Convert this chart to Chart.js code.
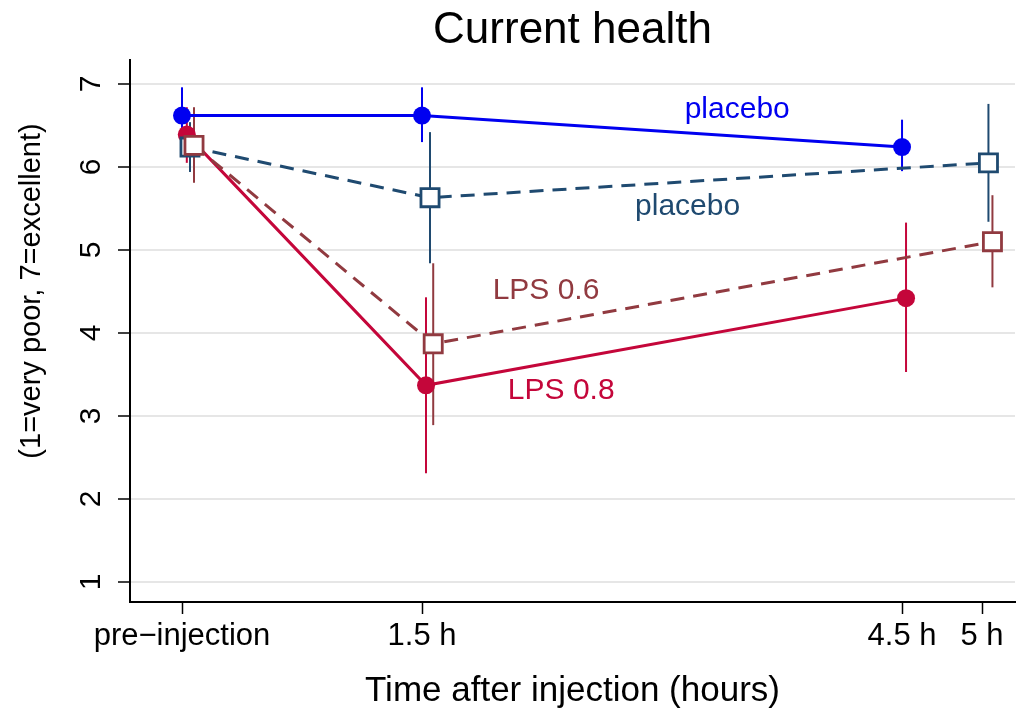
<!DOCTYPE html>
<html>
<head>
<meta charset="UTF-8">
<title>Current health</title>
<script src="https://cdn.jsdelivr.net/npm/chart.js@4"></script>
<style>
  body { margin: 0; background: #fff; }
</style>
</head>
<body>
<canvas id="chart" width="1019" height="713"></canvas>
<script>
// axis ticks
const xTicks = [0, 1.5, 4.5, 5];
const xTickLabels = ['pre\u2212injection', '1.5 h', '4.5 h', '5 h'];
const yTicks = [1, 2, 3, 4, 5, 6, 7];

// placebo, filled circles (solid line)
const placeboATime = [0, 1.5, 4.5];
const placeboAMean = [6.62, 6.62, 6.24];
const placeboALo = [6.30, 6.30, 5.95];
const placeboAHi = [6.96, 6.96, 6.57];

// LPS 0.8, filled circles (solid line)
const lps08Time = [0.03, 1.525, 4.525];
const lps08Mean = [6.39, 3.37, 4.42];
const lps08Lo = [6.05, 2.31, 3.53];
const lps08Hi = [6.72, 4.43, 5.33];

// placebo, hollow squares (dashed line)
const placeboBTime = [0.05, 1.55, 5.04];
const placeboBMean = [6.24, 5.63, 6.05];
const placeboBLo = [5.94, 4.84, 5.34];
const placeboBHi = [6.54, 6.42, 6.76];

// LPS 0.6, hollow squares (dashed line)
const lps06Time = [0.075, 1.57, 5.065];
const lps06Mean = [6.26, 3.87, 5.10];
const lps06Lo = [5.81, 2.89, 4.55];
const lps06Hi = [6.72, 4.84, 5.66];

const FONT = "'Liberation Sans', Arial, Helvetica, sans-serif";

function pts(xs, ys) {
    return xs.map((x, i) => ({x: x, y: ys[i]}));
}

const errorBars = {
    id: 'errorBars',
    beforeDatasetsDraw(chart) {
        const ctx = chart.ctx;
        const xs = chart.scales.x, ys = chart.scales.y;
        ctx.save();
        chart.data.datasets.forEach(ds => {
            ctx.strokeStyle = ds.borderColor;
            ctx.lineWidth = ds.barWidth;
            ds.data.forEach((p, i) => {
                const px = xs.getPixelForValue(p.x);
                ctx.beginPath();
                ctx.moveTo(px, ys.getPixelForValue(ds.lo[i]));
                ctx.lineTo(px, ys.getPixelForValue(ds.hi[i]));
                ctx.stroke();
            });
        });
        ctx.restore();
    }
};

const extraText = {
    id: 'extraText',
    afterDraw(chart, args, opts) {
        const ctx = chart.ctx;
        const xs = chart.scales.x, ys = chart.scales.y;
        const area = chart.chartArea;
        const midX = (area.left + area.right) / 2;
        ctx.save();
        ctx.textAlign = 'center';
        ctx.textBaseline = 'middle';

        // title
        ctx.fillStyle = '#000';
        ctx.font = '44px ' + FONT;
        ctx.fillText('Current health', midX, 31);

        // series labels
        ctx.font = '30px ' + FONT;
        opts.labels.forEach(l => {
            ctx.fillStyle = l.color;
            ctx.fillText(l.text, xs.getPixelForValue(l.x), ys.getPixelForValue(l.y));
        });

        // rotated y tick labels
        ctx.fillStyle = '#000';
        yTicks.forEach(v => {
            ctx.save();
            ctx.translate(92, ys.getPixelForValue(v));
            ctx.rotate(-Math.PI / 2);
            ctx.fillText(String(v), 0, 0);
            ctx.restore();
        });

        // y axis title
        ctx.font = '29px ' + FONT;
        ctx.save();
        ctx.translate(32, 291);
        ctx.rotate(-Math.PI / 2);
        ctx.fillText('(1=very poor, 7=excellent)', 0, 0);
        ctx.restore();

        // x axis title
        ctx.font = '35px ' + FONT;
        ctx.fillText('Time after injection (hours)', midX, 691);
        ctx.restore();
    }
};

new Chart(document.getElementById('chart'), {
    type: 'scatter',
    data: {
        datasets: [
            {
                label: 'placebo', data: pts(placeboATime, placeboAMean),
                lo: placeboALo, hi: placeboAHi, barWidth: 2,
                showLine: true, borderColor: '#0000f0', backgroundColor: '#0000f0',
                borderWidth: 3, pointStyle: 'circle', pointRadius: 9, pointBorderWidth: 0,
                order: 3
            },
            {
                label: 'LPS 0.8', data: pts(lps08Time, lps08Mean),
                lo: lps08Lo, hi: lps08Hi, barWidth: 2,
                showLine: true, borderColor: '#c4063a', backgroundColor: '#c4063a',
                borderWidth: 3, pointStyle: 'circle', pointRadius: 9, pointBorderWidth: 0,
                order: 2
            },
            {
                label: 'placebo', data: pts(placeboBTime, placeboBMean),
                lo: placeboBLo, hi: placeboBHi, barWidth: 2,
                showLine: true, borderColor: '#1f4a70', backgroundColor: '#ffffff',
                borderWidth: 3, borderDash: [14, 9],
                pointStyle: 'rect', pointRadius: 12.8, pointBorderWidth: 2.8,
                order: 1
            },
            {
                label: 'LPS 0.6', data: pts(lps06Time, lps06Mean),
                lo: lps06Lo, hi: lps06Hi, barWidth: 2,
                showLine: true, borderColor: '#913a40', backgroundColor: '#ffffff',
                borderWidth: 3, borderDash: [14, 9],
                pointStyle: 'rect', pointRadius: 12.8, pointBorderWidth: 2.8,
                order: 0
            }
        ]
    },
    options: {
        responsive: false,
        animation: false,
        layout: {autoPadding: false, padding: {left: 0, right: 4, top: 60, bottom: 0}},
        elements: {line: {tension: 0}},
        scales: {
            x: {
                type: 'linear',
                min: -0.325,
                max: 5.206,
                afterBuildTicks: s => { s.ticks = xTicks.map(v => ({value: v})); },
                afterFit: s => { s.height = 111; s.paddingLeft = 0; s.paddingRight = 0; },
                border: {display: true, color: '#000', width: 2},
                grid: {drawOnChartArea: false, drawTicks: true, tickLength: 12, tickColor: '#000', tickWidth: 1.5},
                ticks: {
                    autoSkip: false, maxRotation: 0, minRotation: 0, padding: 4,
                    color: '#000', font: {family: FONT, size: 31},
                    callback: v => xTickLabels[xTicks.indexOf(v)]
                }
            },
            y: {
                min: 0.759,
                max: 7.289,
                afterBuildTicks: s => { s.ticks = yTicks.map(v => ({value: v})); },
                afterFit: s => { s.width = 130; s.paddingTop = 0; s.paddingBottom = 0; },
                border: {display: true, color: '#000', width: 2},
                grid: {color: '#e6e6e6', lineWidth: 2, drawTicks: true, tickLength: 12, tickColor: '#000', tickWidth: 1.5},
                ticks: {display: false}
            }
        },
        plugins: {
            legend: {display: false},
            tooltip: {enabled: false},
            title: {display: false},
            extraText: {
                labels: [
                    {text: 'placebo', x: 3.47, y: 6.69, color: '#0000f0'},
                    {text: 'placebo', x: 3.16, y: 5.52, color: '#1f4a70'},
                    {text: 'LPS 0.6', x: 2.275, y: 4.51, color: '#913a40'},
                    {text: 'LPS 0.8', x: 2.37, y: 3.31, color: '#c4063a'}
                ]
            }
        }
    },
    plugins: [errorBars, extraText]
});
</script>
</body>
</html>
